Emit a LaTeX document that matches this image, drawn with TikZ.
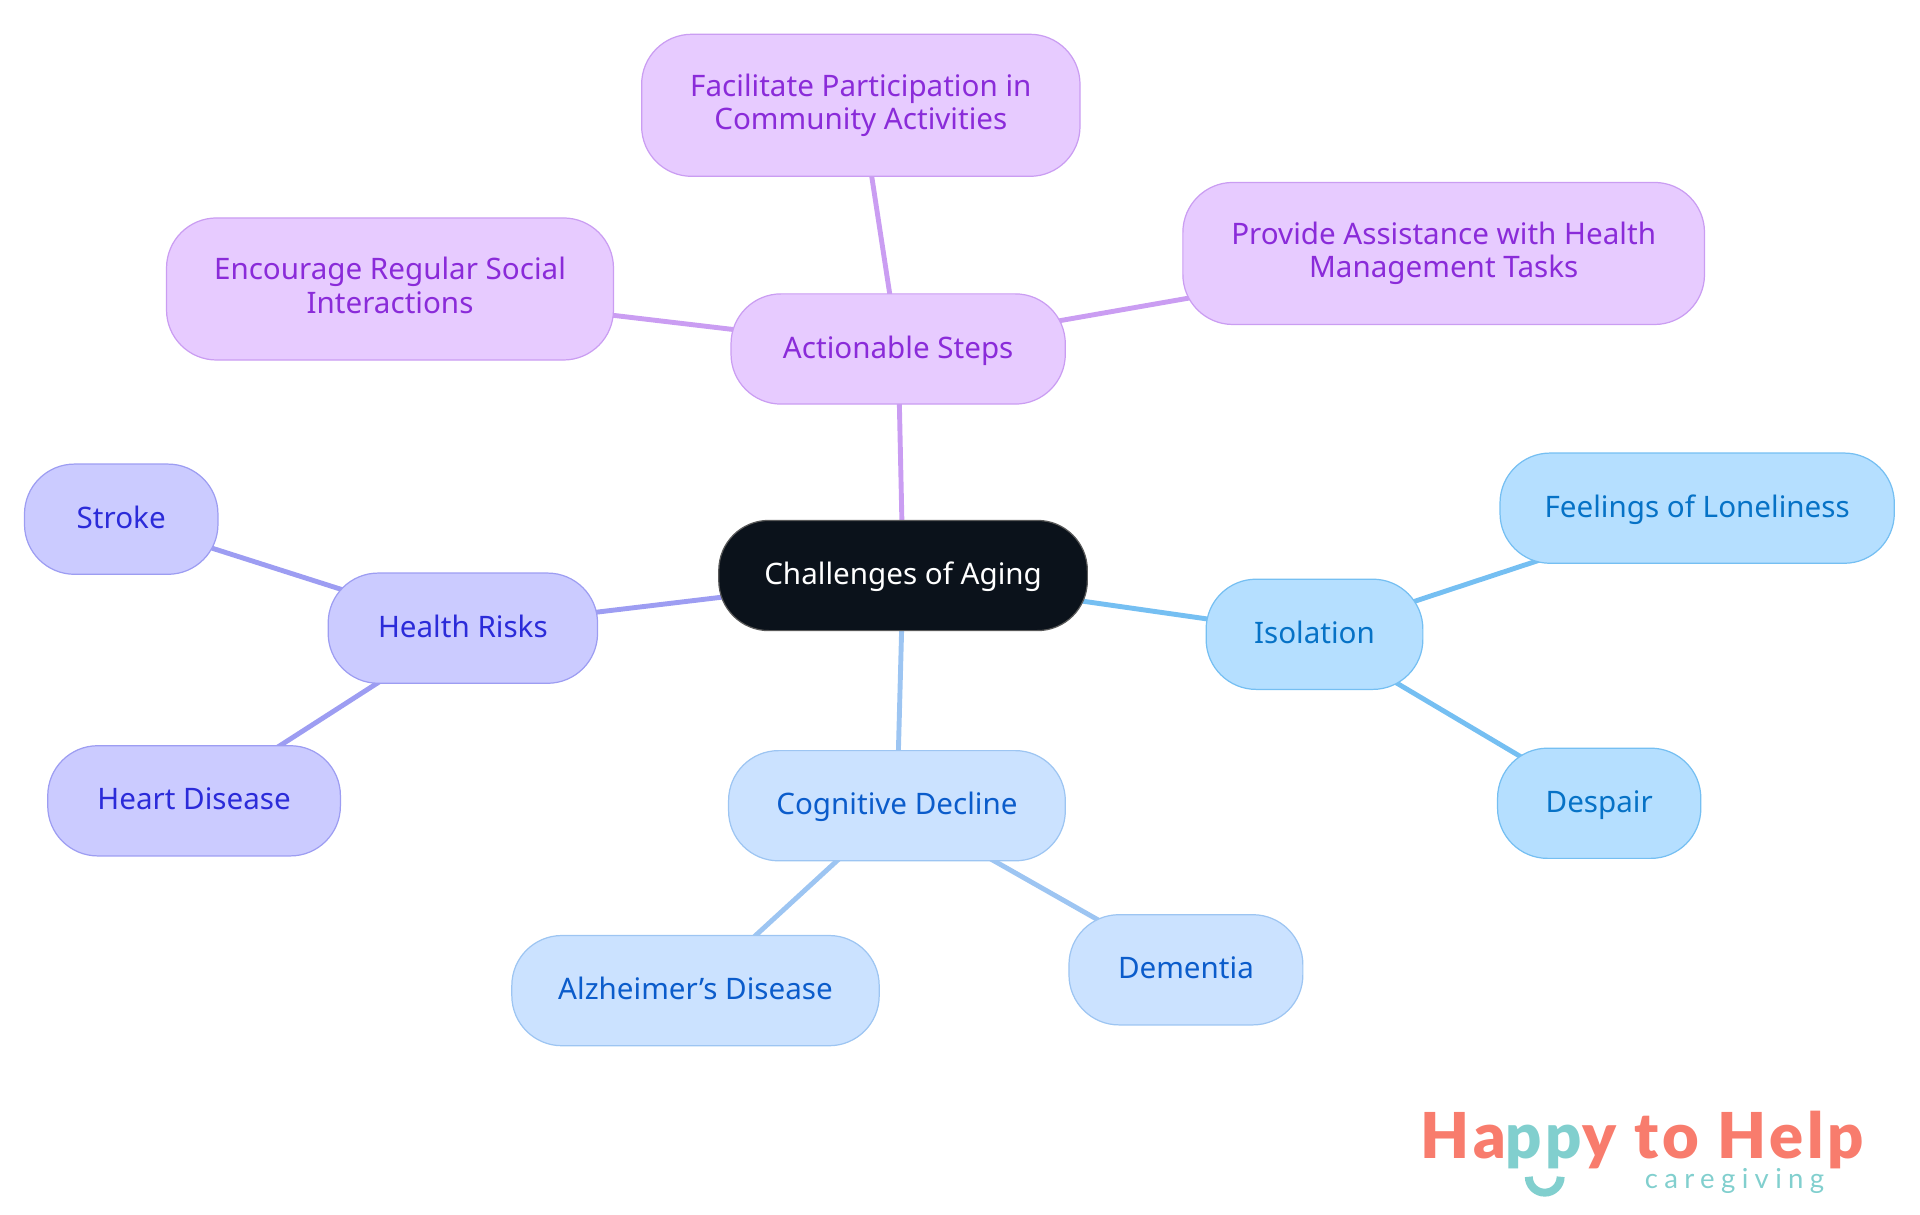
\documentclass[tikz,border=0pt]{standalone}
\usepackage{fontspec}
\setmainfont{Noto Sans}
\newfontfamily\logofont{Lato Black}[LetterSpace=6]
\newfontfamily\taglinefont{Lato}[LetterSpace=23]
\newcommand{\pillstrut}{\rule[-3.66pt]{0pt}{16.2pt}}
\usetikzlibrary{backgrounds}
\definecolor{rootfill}{HTML}{0B121B}
\definecolor{stepfill}{HTML}{E7CBFF}
\definecolor{stepline}{HTML}{CA9DF2}
\definecolor{steptext}{HTML}{8A2BD9}
\definecolor{riskfill}{HTML}{CBCBFF}
\definecolor{riskline}{HTML}{9D9DF2}
\definecolor{risktext}{HTML}{2B2BD9}
\definecolor{mindfill}{HTML}{CBE2FF}
\definecolor{mindline}{HTML}{9DC5F2}
\definecolor{mindtext}{HTML}{0B5CCB}
\definecolor{lonefill}{HTML}{B5DFFF}
\definecolor{loneline}{HTML}{75BFF2}
\definecolor{lonetext}{HTML}{0672C6}
\definecolor{logored}{HTML}{F87C6D}
\definecolor{logoteal}{HTML}{81CFCE}
\tikzset{
  pill/.style     = {draw, rounded corners=24.5pt, line width=0.6pt, minimum height=54pt, inner sep=0pt, align=center, font=\fontsize{14.5}{16.2}\selectfont, execute at begin node=\pillstrut},
  tallpill/.style = {pill, minimum height=69.6pt},
  root/.style     = {pill, fill=rootfill, draw=gray!70!black, text=white},
  steps/.style    = {fill=stepfill, draw=stepline, text=steptext},
  risks/.style    = {fill=riskfill, draw=riskline, text=risktext},
  minds/.style    = {fill=mindfill, draw=mindline, text=mindtext},
  lones/.style    = {fill=lonefill, draw=loneline, text=lonetext},
  link/.style     = {line width=2.4pt}
}
\begin{document}
\begin{tikzpicture}[x=0.6pt, y=-0.6pt]
    \useasboundingbox (0,0) rectangle (1568,992);
    % Centre
    \node[root,minimum width=180.6pt] (aging) at (737.5,470) {Challenges of Aging};
    % Actionable steps
    \node[pill,steps,minimum width=163.8pt] (actions) at (733.5,285) {Actionable Steps};
    \node[tallpill,steps,minimum width=219pt] (social) at (318.5,236) {Encourage Regular Social\\\pillstrut Interactions};
    \node[tallpill,steps,minimum width=214.8pt] (community) at (703,86) {Facilitate Participation in\\\pillstrut Community Activities};
    \node[tallpill,steps,minimum width=255.6pt] (manage) at (1179,207) {Provide Assistance with Health\\\pillstrut Management Tasks};
    % Health risks
    \node[pill,risks,minimum width=132pt] (risks) at (378,513) {Health Risks};
    \node[pill,risks,minimum width=94.8pt] (stroke) at (99,424) {Stroke};
    \node[pill,risks,minimum width=143.4pt] (heart) at (158.5,654) {Heart Disease};
    % Cognitive decline
    \node[pill,minds,minimum width=165pt] (decline) at (732.5,658) {Cognitive Decline};
    \node[pill,minds,minimum width=180pt] (alzheimer) at (568,809) {Alzheimer’s Disease};
    \node[pill,minds,minimum width=114.6pt] (dementia) at (968.5,792) {Dementia};
    % Isolation
    \node[pill,lones,minimum width=106.2pt] (isolation) at (1073.5,518) {Isolation};
    \node[pill,lones,minimum width=193.2pt] (lonely) at (1386,415) {Feelings of Loneliness};
    \node[pill,lones,minimum width=99.6pt] (despair) at (1306,656) {Despair};
    % Connectors
    \begin{scope}[on background layer]
      \draw[link,stepline] (aging.center) -- (actions.center);
      \draw[link,stepline] (actions.center) -- (social.center);
      \draw[link,stepline] (actions.center) -- (community.center);
      \draw[link,stepline] (actions.center) -- (manage.center);
      \draw[link,riskline] (aging.center) -- (risks.center);
      \draw[link,riskline] (risks.center) -- (stroke.center);
      \draw[link,riskline] (risks.center) -- (heart.center);
      \draw[link,mindline] (aging.center) -- (decline.center);
      \draw[link,mindline] (decline.center) -- (alzheimer.center);
      \draw[link,mindline] (decline.center) -- (dementia.center);
      \draw[link,loneline] (aging.center) -- (isolation.center);
      \draw[link,loneline] (isolation.center) -- (lonely.center);
      \draw[link,loneline] (isolation.center) -- (despair.center);
    \end{scope}
    % Logo
    \node[anchor=base west,inner sep=0pt,text=logored,font=\logofont\fontsize{31}{31}\selectfont] (logo) at (1160,946) {Ha\textcolor{logoteal}{pp}y to Help};
    \node[anchor=base west,inner sep=0pt,text=logoteal,font=\taglinefont\fontsize{13.5}{14}\selectfont] (tagline) at (1343,971) {caregiving};
    \draw[logoteal,line width=3.9pt] (1248.5,961) arc[start angle=180,end angle=0,radius=13];
\end{tikzpicture}
\end{document}
